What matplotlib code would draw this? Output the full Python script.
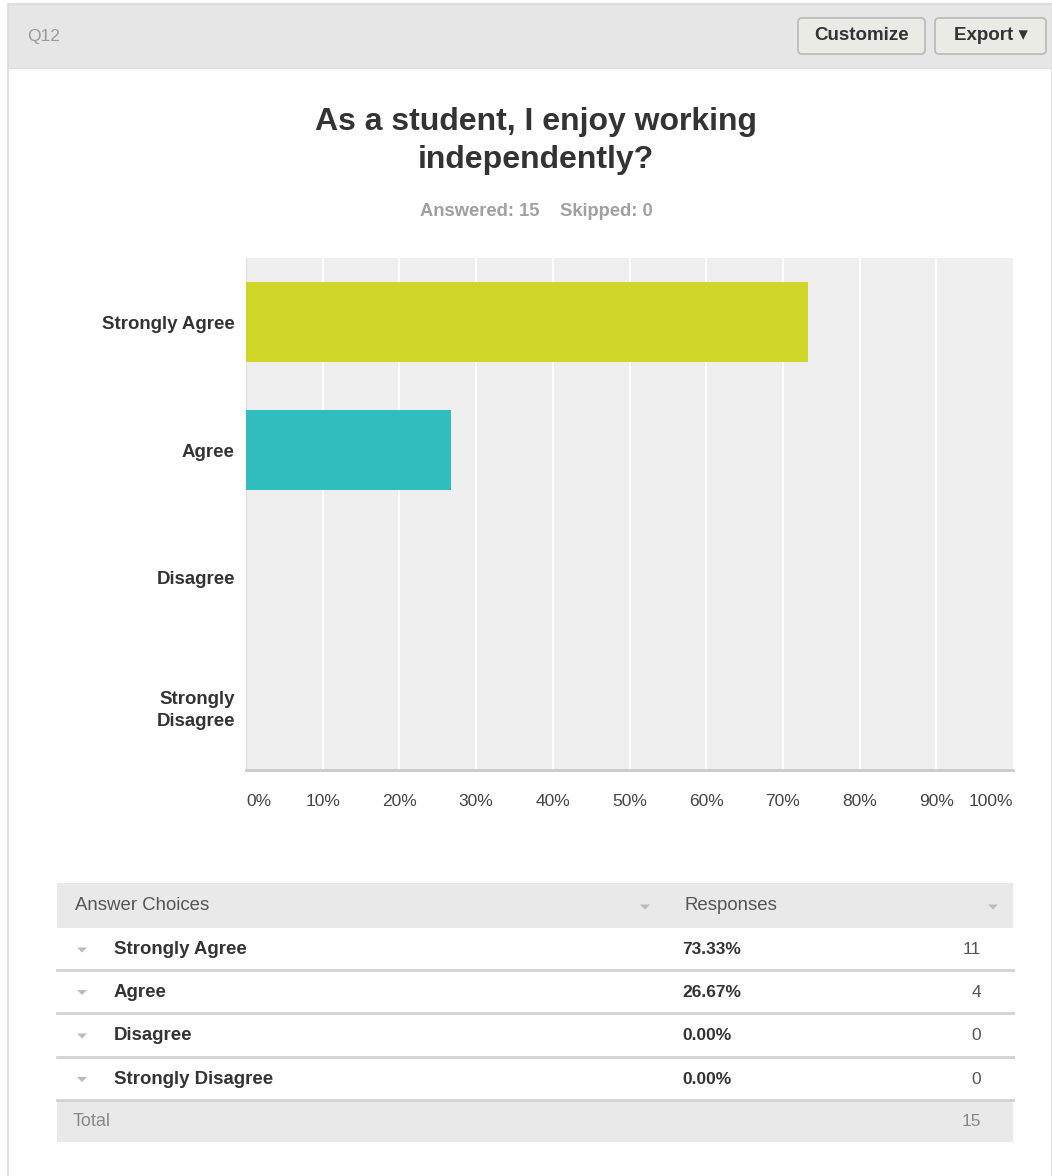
import matplotlib
matplotlib.use("Agg")
import matplotlib.pyplot as plt
from matplotlib.patches import Rectangle, FancyBboxPatch, Polygon

plt.rcParams['font.family'] = ['Liberation Sans', 'DejaVu Sans']

# Survey data
question_id = "Q12"
title = "As a student, I enjoy working\nindependently?"
answered = 15
skipped = 0
categories = ["Strongly Agree", "Agree", "Disagree", "Strongly\nDisagree"]
table_labels = ["Strongly Agree", "Agree", "Disagree", "Strongly Disagree"]
percents = [73.33, 26.67, 0.00, 0.00]
counts = [11, 4, 0, 0]
bar_colors = ["#cfd628", "#30bdbe", "#f3733f", "#6c7bd0"]
tick_values = [0, 10, 20, 30, 40, 50, 60, 70, 80, 90, 100]
tick_labels = [f"{v}%" for v in tick_values]

W, H = 1052, 1176
fig = plt.figure(figsize=(W / 100, H / 100), dpi=100)
fig.patch.set_facecolor("white")

# Page-level canvas in pixel coordinates
bg = fig.add_axes([0, 0, 1, 1])
bg.set_xlim(0, W)
bg.set_ylim(H, 0)
bg.axis("off")

# Card border and header band
bg.add_patch(Rectangle((8, 4), W - 8, H, facecolor="white", edgecolor="#dcdcdc", lw=1.2))
bg.add_patch(Rectangle((8, 4), W - 8, 64, facecolor="#e6e6e6", edgecolor="#dcdcdc", lw=1.0))
bg.text(27, 36, question_id, fontsize=12.5, color="#9a9a9a", va="center", ha="left")

# Header buttons
for (x0, x1, label) in [(798, 925, "Customize"), (935, 1046, "Export \u25be")]:
    bg.add_patch(FancyBboxPatch((x0, 18), x1 - x0, 36,
                                boxstyle="round,pad=0,rounding_size=4",
                                facecolor="#ebebe6", edgecolor="#b8b8b8", lw=1.2))
    bg.text((x0 + x1) / 2, 36, label, fontsize=13.5, fontweight="bold",
            color="#333333", ha="center", va="center")

# Title and stats line
bg.text(536, 141, title, fontsize=23, fontweight="bold", color="#333333",
        ha="center", va="center", linespacing=1.38)
bg.text(536, 211, f"Answered: {answered}    Skipped: {skipped}", fontsize=13.2,
        fontweight="bold", color="#a0a0a0", ha="center", va="center")

# Bar chart
ax_l, ax_r, ax_t, ax_b = 246, 1013, 258, 770
ax = fig.add_axes([ax_l / W, (H - ax_b) / H, (ax_r - ax_l) / W, (ax_b - ax_t) / H])
ax.set_facecolor("#efefef")
ypos = list(range(len(categories)))
ax.barh(ypos, percents, height=0.62, color=bar_colors[:len(categories)], zorder=3)
ax.set_xlim(0, 100)
ax.set_ylim(len(categories) - 0.5, -0.5)
for v in tick_values[1:-1]:
    ax.axvline(v, color="white", lw=1.5, zorder=1)
for s in ["top", "right"]:
    ax.spines[s].set_visible(False)
ax.spines["left"].set_color("#dddddd")
ax.spines["bottom"].set_color("#c9c9c9")
ax.spines["bottom"].set_linewidth(2)
ax.set_yticks(ypos)
ax.set_yticklabels(categories, fontsize=13.4, fontweight="bold", color="#333333",
                   linespacing=1.35)
ax.tick_params(axis="y", length=0, pad=8)
ax.set_xticks(tick_values)
ax.set_xticklabels(tick_labels, fontsize=12.5, color="#444444")
ax.tick_params(axis="x", length=0, pad=17)
xt = ax.get_xticklabels()
xt[0].set_ha("left")
xt[-1].set_ha("right")

# Summary table
tx0, tx1 = 57, 1013
rows_y = [928, 970, 1013, 1057, 1100]
bg.add_patch(Rectangle((tx0, 883), tx1 - tx0, 45, facecolor="#e9e9e9", edgecolor="none"))
bg.add_patch(Rectangle((tx0, 1100), tx1 - tx0, 42, facecolor="#e9e9e9", edgecolor="none"))
for y in rows_y[1:]:
    bg.plot([tx0, tx1], [y, y], color="#d2d2d2", lw=2)


def caret(x, y, color):
    bg.add_patch(Polygon([[x - 5, y - 2.5], [x + 5, y - 2.5], [x, y + 2.5]],
                         closed=True, facecolor=color, edgecolor="none"))


bg.text(75, 906, "Answer Choices", fontsize=13.4, color="#555555", va="center")
caret(645, 907, "#bbbbbb")
bg.text(684, 906, "Responses", fontsize=13.4, color="#555555", va="center")
caret(993, 907, "#bbbbbb")

for i, (lab, pct, cnt) in enumerate(zip(table_labels, percents, counts)):
    yc = (rows_y[i] + rows_y[i + 1]) / 2 + 1
    caret(82, yc, "#bbbbbb")
    bg.text(114, yc, lab, fontsize=13.4, fontweight="bold", color="#333333", va="center")
    bg.text(682, yc, f"{pct:.2f}%", fontsize=12.5, fontweight="bold", color="#333333", va="center")
    bg.text(981, yc, str(cnt), fontsize=12.5, color="#555555", va="center", ha="right")

bg.text(73, 1121, "Total", fontsize=13, color="#888888", va="center")
bg.text(981, 1121, str(sum(counts)), fontsize=12.5, color="#888888", va="center", ha="right")

fig.savefig("out.png", dpi=100, facecolor="white")
